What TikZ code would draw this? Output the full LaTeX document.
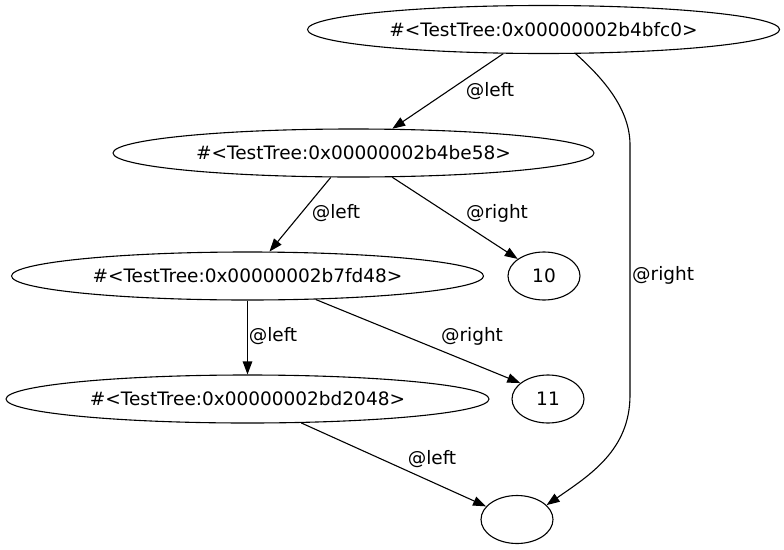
\documentclass[tikz,border=0pt]{standalone}
\usepackage{fontspec}
\setmainfont{DejaVu Sans}
\usetikzlibrary{arrows.meta,shapes.geometric}
\begin{document}
\begin{tikzpicture}[x=1pt,y=-1pt,
  every node/.style={font=\fontsize{18.5}{22}\selectfont},
  tnode/.style={draw,ellipse,line width=1.1pt,inner sep=0pt,minimum height=48pt},
  lbl/.style={inner sep=0pt},
  edge/.style={line width=1.1pt,-{Triangle[length=13pt,width=9.5pt]}}]
\useasboundingbox (0,0) rectangle (784,549);
\node[tnode,minimum width=472pt] (A) at (543.5,29.5) {\#<TestTree:0x00000002b4bfc0>};
\node[tnode,minimum width=481pt] (B) at (353.5,153) {\#<TestTree:0x00000002b4be58>};
\node[tnode,minimum width=472pt] (C) at (247.5,276) {\#<TestTree:0x00000002b7fd48>};
\node[tnode,minimum width=483pt] (D) at (247.5,399) {\#<TestTree:0x00000002bd2048>};
\node[tnode,minimum width=72pt] (T) at (544,276) {10};
\node[tnode,minimum width=72pt] (E) at (548,399) {11};
\node[tnode,minimum width=72pt] (N) at (517,519.5) {};
\coordinate (r1) at (630,145);
\coordinate (r2) at (630,395);
\draw[edge] (A.211.6) -- (B.32.5);
\node[lbl] (la) at (490,91) {@left};
\draw[edge] (A.323.8) .. controls (605,80) and (630,110) .. (r1) -- (r2) .. controls (630,450) and (590,475) .. (N.26.6);
\node[lbl,anchor=west] (lb) at (632,275) {@right};
\draw[edge] (B.227.6) -- (C.48.3);
\node[lbl] (lc) at (336,213) {@left};
\draw[edge] (B.328.2) -- (T.147);
\node[lbl] (ld) at (497,213) {@right};
\draw[edge] (C.south) -- (D.north);
\node[lbl] (le) at (273,336) {@left};
\draw[edge] (C.341.1) -- (E.150.7);
\node[lbl] (lf) at (472,336) {@right};
\draw[edge] (D.336.6) -- (N.157.1);
\node[lbl] (lg) at (432,459) {@left};
\end{tikzpicture}
\end{document}
